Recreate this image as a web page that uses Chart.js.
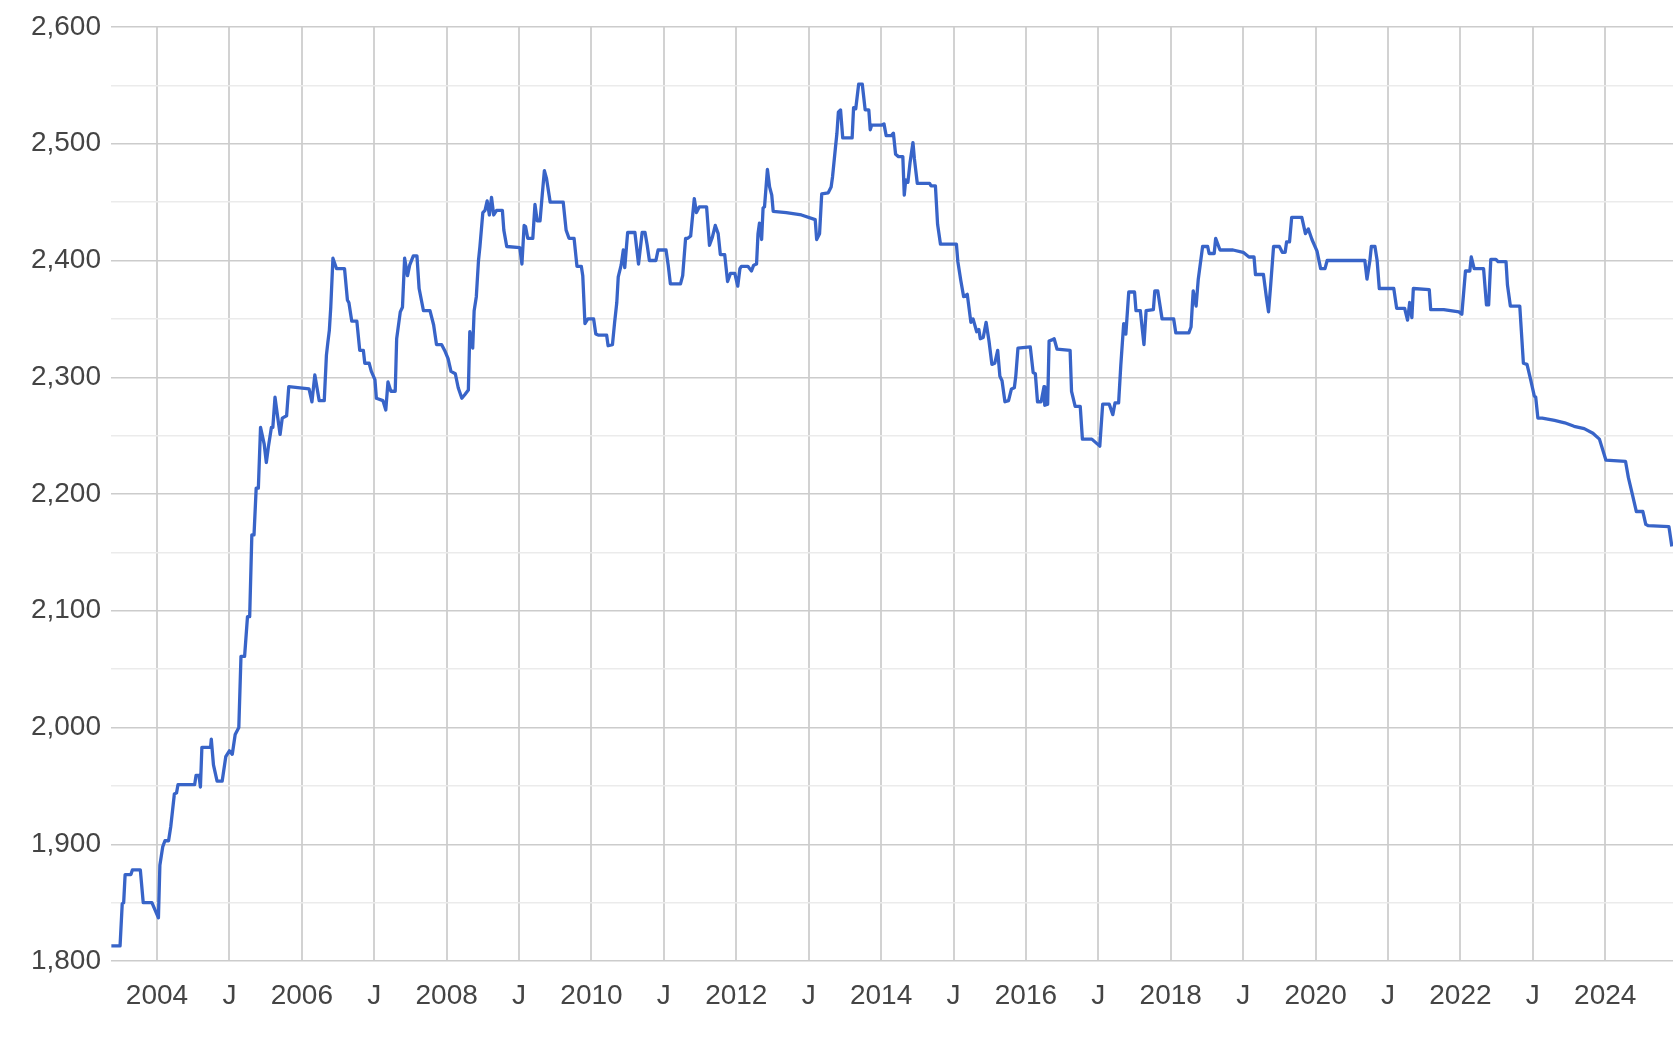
<!DOCTYPE html>
<html>
<head>
<meta charset="utf-8">
<script src="https://cdn.jsdelivr.net/npm/chart.js@4.4.1/dist/chart.umd.min.js"></script>
<style>
  html, body { margin: 0; padding: 0; background: #fff; }
  #wrap { width: 1676px; height: 1058px; }
</style>
</head>
<body>
<div id="wrap"><canvas id="priceChart"></canvas></div>
<script>
// decimal years
const dates = [
  2003.37, 2003.49, 2003.52, 2003.54, 2003.56, 2003.64, 2003.66, 2003.77, 2003.81, 2003.93,
  2004.02, 2004.04, 2004.08, 2004.11, 2004.16, 2004.19, 2004.24, 2004.27, 2004.29, 2004.52,
  2004.54, 2004.58, 2004.60, 2004.62, 2004.74, 2004.75, 2004.78, 2004.83, 2004.90, 2004.95,
  2005.00, 2005.04, 2005.08, 2005.13, 2005.16, 2005.21, 2005.25, 2005.28, 2005.31, 2005.34,
  2005.37, 2005.40, 2005.43, 2005.48, 2005.51, 2005.54, 2005.58, 2005.60, 2005.63, 2005.66,
  2005.70, 2005.73, 2005.79, 2005.82, 2006.10, 2006.14, 2006.18, 2006.24, 2006.31, 2006.34,
  2006.36, 2006.38, 2006.40, 2006.43, 2006.48, 2006.59, 2006.63, 2006.65, 2006.69, 2006.76,
  2006.80, 2006.85, 2006.87, 2006.93, 2006.96, 2007.01, 2007.03, 2007.12, 2007.16, 2007.19,
  2007.23, 2007.29, 2007.31, 2007.36, 2007.39, 2007.42, 2007.46, 2007.49, 2007.54, 2007.59,
  2007.62, 2007.68, 2007.77, 2007.82, 2007.86, 2007.93, 2007.98, 2008.02, 2008.06, 2008.12,
  2008.16, 2008.21, 2008.25, 2008.30, 2008.32, 2008.36, 2008.38, 2008.41, 2008.44, 2008.46,
  2008.50, 2008.53, 2008.56, 2008.59, 2008.62, 2008.65, 2008.69, 2008.77, 2008.79, 2008.83,
  2009.01, 2009.04, 2009.07, 2009.09, 2009.12, 2009.19, 2009.22, 2009.25, 2009.29, 2009.32,
  2009.35, 2009.38, 2009.43, 2009.61, 2009.65, 2009.69, 2009.76, 2009.80, 2009.86, 2009.88,
  2009.91, 2009.95, 2010.03, 2010.06, 2010.10, 2010.21, 2010.23, 2010.29, 2010.32, 2010.35,
  2010.37, 2010.41, 2010.44, 2010.46, 2010.50, 2010.60, 2010.65, 2010.70, 2010.74, 2010.77,
  2010.80, 2010.89, 2010.92, 2011.03, 2011.06, 2011.09, 2011.23, 2011.26, 2011.30, 2011.33,
  2011.37, 2011.42, 2011.45, 2011.49, 2011.59, 2011.63, 2011.67, 2011.71, 2011.75, 2011.78,
  2011.84, 2011.88, 2011.92, 2011.98, 2012.02, 2012.05, 2012.07, 2012.16, 2012.21, 2012.24,
  2012.28, 2012.30, 2012.32, 2012.35, 2012.37, 2012.39, 2012.43, 2012.46, 2012.49, 2012.51,
  2012.69, 2012.90, 2013.09, 2013.11, 2013.15, 2013.18, 2013.27, 2013.31, 2013.33, 2013.37,
  2013.39, 2013.41, 2013.44, 2013.47, 2013.60, 2013.62, 2013.65, 2013.69, 2013.74, 2013.78,
  2013.83, 2013.85, 2013.87, 2014.01, 2014.04, 2014.07, 2014.14, 2014.17, 2014.20, 2014.24,
  2014.30, 2014.32, 2014.34, 2014.37, 2014.40, 2014.44, 2014.46, 2014.50, 2014.67, 2014.69,
  2014.75, 2014.78, 2014.82, 2015.04, 2015.06, 2015.10, 2015.14, 2015.19, 2015.24, 2015.27,
  2015.32, 2015.35, 2015.37, 2015.41, 2015.45, 2015.49, 2015.53, 2015.57, 2015.61, 2015.64,
  2015.67, 2015.71, 2015.76, 2015.80, 2015.84, 2015.86, 2015.89, 2016.06, 2016.10, 2016.13,
  2016.16, 2016.21, 2016.25, 2016.26, 2016.30, 2016.32, 2016.36, 2016.39, 2016.43, 2016.61,
  2016.63, 2016.68, 2016.75, 2016.78, 2016.91, 2017.02, 2017.06, 2017.15, 2017.20, 2017.23,
  2017.28, 2017.31, 2017.35, 2017.38, 2017.42, 2017.50, 2017.52, 2017.58, 2017.63, 2017.66,
  2017.76, 2017.78, 2017.82, 2017.88, 2018.04, 2018.07, 2018.25, 2018.28, 2018.31, 2018.35,
  2018.38, 2018.44, 2018.51, 2018.53, 2018.60, 2018.62, 2018.68, 2018.86, 2019.00, 2019.08,
  2019.15, 2019.17, 2019.28, 2019.32, 2019.35, 2019.38, 2019.42, 2019.50, 2019.54, 2019.58,
  2019.60, 2019.64, 2019.67, 2019.81, 2019.86, 2019.90, 2019.95, 2020.02, 2020.07, 2020.13,
  2020.16, 2020.68, 2020.71, 2020.75, 2020.77, 2020.82, 2020.85, 2020.88, 2021.08, 2021.12,
  2021.23, 2021.27, 2021.30, 2021.33, 2021.35, 2021.57, 2021.59, 2021.77, 2021.98, 2022.02,
  2022.07, 2022.13, 2022.15, 2022.19, 2022.32, 2022.36, 2022.39, 2022.42, 2022.49, 2022.52,
  2022.63, 2022.65, 2022.69, 2022.82, 2022.87, 2022.92, 2022.97, 2023.02, 2023.04, 2023.07,
  2023.13, 2023.30, 2023.44, 2023.57, 2023.71, 2023.83, 2023.92, 2024.01, 2024.28, 2024.32,
  2024.37, 2024.43, 2024.52, 2024.56, 2024.59, 2024.88, 2024.92
];

const values = [
  1813, 1813, 1849, 1850, 1874, 1874, 1878, 1878, 1850, 1850,
  1837, 1882, 1898, 1903, 1903, 1915, 1943, 1944, 1951, 1951,
  1959, 1959, 1949, 1983, 1983, 1990, 1968, 1954, 1954, 1975,
  1980, 1977, 1994, 2000, 2061, 2061, 2095, 2095, 2165, 2165,
  2205, 2205, 2257, 2243, 2227, 2241, 2257, 2257, 2283, 2269,
  2251, 2265, 2267, 2292, 2290, 2279, 2302, 2280, 2280, 2319,
  2330, 2340, 2360, 2402, 2393, 2393, 2366, 2364, 2348, 2348,
  2323, 2323, 2312, 2312, 2305, 2298, 2282, 2280, 2272, 2296,
  2288, 2288, 2333, 2356, 2360, 2402, 2387, 2396, 2404, 2404,
  2376, 2357, 2357, 2345, 2328, 2328, 2322, 2316, 2305, 2303,
  2291, 2282, 2285, 2289, 2339, 2325, 2357, 2369, 2400, 2412,
  2441, 2443, 2451, 2439, 2454, 2439, 2443, 2443, 2426, 2412,
  2411, 2397, 2430, 2429, 2419, 2419, 2448, 2434, 2434, 2456,
  2477, 2470, 2450, 2450, 2426, 2419, 2419, 2395, 2395, 2387,
  2346, 2350, 2350, 2337, 2336, 2336, 2327, 2328, 2347, 2364,
  2386, 2396, 2409, 2394, 2424, 2424, 2397, 2424, 2424, 2413,
  2400, 2400, 2409, 2409, 2396, 2380, 2380, 2387, 2419, 2419,
  2421, 2453, 2441, 2446, 2446, 2413, 2420, 2430, 2423, 2405,
  2405, 2382, 2389, 2389, 2378, 2393, 2395, 2395, 2391, 2396,
  2397, 2423, 2432, 2418, 2445, 2446, 2478, 2463, 2456, 2442,
  2441, 2439, 2435, 2418, 2423, 2457, 2458, 2463, 2472, 2497,
  2509, 2527, 2529, 2505, 2505, 2531, 2530, 2551, 2551, 2529,
  2529, 2512, 2516, 2516, 2517, 2507, 2507, 2509, 2491, 2489,
  2489, 2456, 2469, 2467, 2484, 2501, 2487, 2466, 2466, 2464,
  2464, 2431, 2414, 2414, 2399, 2383, 2369, 2371, 2347, 2350,
  2339, 2341, 2333, 2334, 2347, 2331, 2311, 2312, 2323, 2301,
  2297, 2279, 2280, 2290, 2291, 2301, 2325, 2326, 2304, 2303,
  2279, 2279, 2292, 2276, 2277, 2331, 2332, 2333, 2324, 2323,
  2288, 2275, 2275, 2247, 2247, 2241, 2277, 2277, 2268, 2278,
  2278, 2310, 2346, 2337, 2373, 2373, 2357, 2357, 2328, 2357,
  2358, 2374, 2374, 2350, 2350, 2338, 2338, 2343, 2374, 2361,
  2384, 2412, 2412, 2406, 2406, 2419, 2409, 2409, 2407, 2403,
  2403, 2388, 2388, 2369, 2356, 2379, 2412, 2412, 2407, 2407,
  2416, 2416, 2437, 2437, 2423, 2427, 2418, 2408, 2393, 2393,
  2400, 2400, 2384, 2400, 2412, 2412, 2400, 2376, 2376, 2359,
  2359, 2349, 2364, 2351, 2376, 2375, 2358, 2358, 2356, 2354,
  2391, 2391, 2403, 2393, 2393, 2362, 2362, 2401, 2401, 2399,
  2399, 2379, 2361, 2361, 2312, 2311, 2298, 2284, 2283, 2265,
  2265, 2263, 2261, 2258, 2256, 2252, 2247, 2229, 2228, 2214,
  2201, 2185, 2185, 2174, 2173, 2172, 2155
];

const xTickYears = [2004, 2005, 2006, 2007, 2008, 2009, 2010, 2011, 2012, 2013, 2014,
  2015, 2016, 2017, 2018, 2019, 2020, 2021, 2022, 2023, 2024];
const xTickLabels = ['2004', 'J', '2006', 'J', '2008', 'J', '2010', 'J', '2012', 'J', '2014',
  'J', '2016', 'J', '2018', 'J', '2020', 'J', '2022', 'J', '2024'];
const yMin = 1800;
const yMax = 2600;
const yStep = 50;

const points = dates.map((d, i) => ({ x: d, y: values[i] }));

const labelFont = { family: "'Liberation Sans', Arial, sans-serif", size: 28 };

new Chart(document.getElementById('priceChart'), {
  type: 'line',
  data: {
    datasets: [{
      data: points,
      borderColor: '#3864c8',
      borderWidth: 3.3,
      borderJoinStyle: 'round',
      pointRadius: 0,
      tension: 0,
      fill: false
    }]
  },
  options: {
    responsive: true,
    maintainAspectRatio: false,
    animation: false,
    layout: { padding: { top: 27, right: 3, left: 0, bottom: 0 } },
    plugins: {
      legend: { display: false },
      tooltip: { enabled: false }
    },
    scales: {
      x: {
        type: 'linear',
        min: 2003.365,
        max: 2024.936,
        afterBuildTicks: scale => {
          scale.ticks = xTickYears.map(v => ({ value: v }));
        },
        afterFit: scale => { scale.height = 97; },
        border: { display: false },
        grid: { color: '#d2d2d2', lineWidth: 2, drawTicks: false },
        ticks: {
          autoSkip: false,
          maxRotation: 0,
          padding: 18,
          color: '#444',
          font: labelFont,
          callback: v => {
            const i = xTickYears.indexOf(v);
            return i >= 0 ? xTickLabels[i] : '';
          }
        }
      },
      y: {
        min: yMin,
        max: yMax,
        afterFit: scale => { scale.width = 111; },
        border: { display: false },
        grid: {
          drawTicks: false,
          lineWidth: 1.5,
          color: ctx => (ctx.tick && ctx.tick.value % 100 === 0) ? '#cccccc' : '#ebebeb'
        },
        ticks: {
          stepSize: yStep,
          autoSkip: false,
          padding: 10,
          color: '#444',
          font: labelFont,
          callback: v => v % 100 === 0 ? v.toLocaleString('en-US') : ''
        }
      }
    }
  }
});
</script>
</body>
</html>
